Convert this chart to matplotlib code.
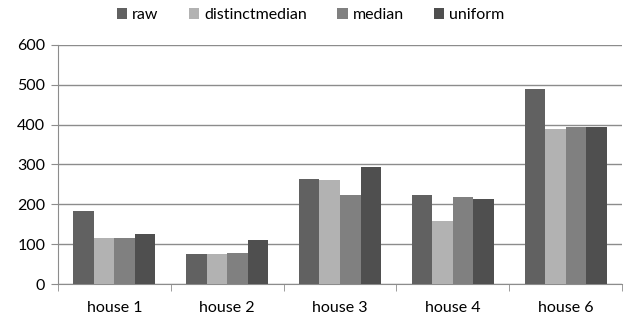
import numpy as np
from matplotlib import pyplot as plt

plt.rcParams['font.family'] = ['Lato', 'DejaVu Sans']

houses = ['house 1', 'house 2', 'house 3', 'house 4', 'house 6']
raw = [183, 75, 264, 222, 490]
distinctmedian = [116, 75, 262, 157, 389]
median = [116, 78, 224, 219, 395]
uniform = [125, 111, 294, 214, 393]

series = [('raw', raw, '#616161'),
          ('distinctmedian', distinctmedian, '#b2b2b2'),
          ('median', median, '#808080'),
          ('uniform', uniform, '#4f4f4f')]

fig = plt.figure(figsize=(6.29, 3.2), dpi=100)
ax = fig.add_axes([0.092, 0.1125, 0.897, 0.7475])

x = np.arange(len(houses))
w = 0.182
for i, (name, vals, col) in enumerate(series):
    ax.bar(x + (i - 1.5) * w, vals, w, color=col, label=name, zorder=3)

ax.set_xlim(-0.5, len(houses) - 0.5)
ax.set_ylim(0, 600)
ax.set_yticks(range(0, 601, 100))
ax.yaxis.grid(True, color='#8c8c8c', linewidth=1, zorder=0)

ax.set_xticks(x)
ax.set_xticklabels(houses)
ax.tick_params(axis='x', length=0, pad=12, labelsize=11.5)
ax.set_xticks(np.arange(-0.5, len(houses), 1), minor=True)
ax.tick_params(axis='x', which='minor', length=5, color='#8c8c8c')
ax.tick_params(axis='y', length=5, color='#8c8c8c', labelsize=11.5, pad=4)

for s in ['top', 'right']:
    ax.spines[s].set_visible(False)
for s in ['left', 'bottom']:
    ax.spines[s].set_color('#8c8c8c')

fig.legend(loc='upper center', bbox_to_anchor=(0.494, 1.02), ncol=4, frameon=False,
           handlelength=0.65, handleheight=0.65, handletextpad=0.3, columnspacing=1.9,
           fontsize=11.5)

fig.savefig('out.png', dpi=100)
